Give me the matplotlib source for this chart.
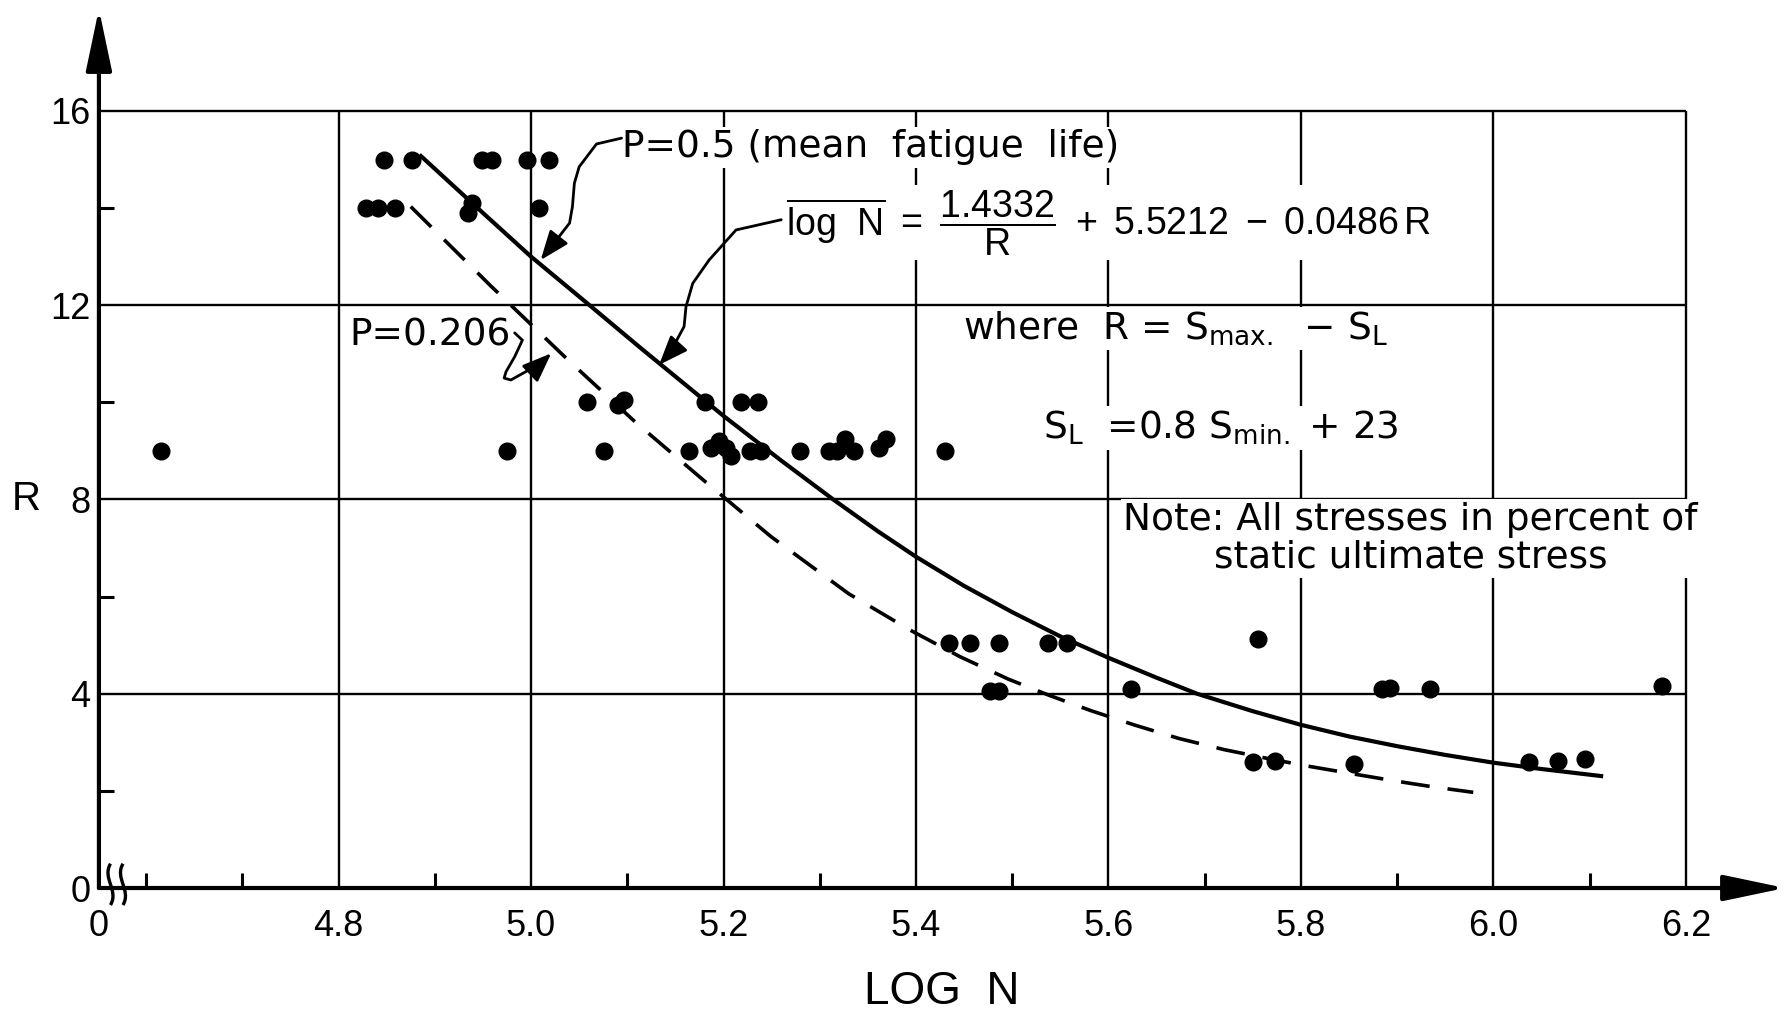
import numpy as np
import matplotlib
matplotlib.use('Agg')
import matplotlib.pyplot as plt
from matplotlib.path import Path
from matplotlib.patches import FancyArrowPatch, PathPatch

plt.rcParams['font.family'] = ['Liberation Sans', 'DejaVu Sans']
plt.rcParams['mathtext.fontset'] = 'custom'
plt.rcParams['mathtext.rm'] = 'Liberation Sans'
plt.rcParams['mathtext.it'] = 'Liberation Sans'
plt.rcParams['mathtext.bf'] = 'Liberation Sans:bold'

# test points (log N, R)
pts_logN = [4.847, 4.876, 4.949, 4.959, 4.996, 5.019,
            4.829, 4.841, 4.859, 4.939, 4.935, 5.008,
            5.058, 5.090, 5.097, 5.181, 5.218, 5.236,
            4.615, 4.975, 5.076, 5.164, 5.187, 5.195, 5.203, 5.208, 5.227, 5.239,
            5.279, 5.310, 5.318, 5.326, 5.336, 5.362, 5.369, 5.430,
            5.434, 5.456, 5.486, 5.537, 5.557, 5.755,
            5.477, 5.486, 5.623, 5.884, 5.893, 5.934, 6.175,
            5.750, 5.773, 5.855, 6.037, 6.067, 6.095]
pts_R = [15.0, 15.0, 15.0, 15.0, 15.0, 15.0,
         14.0, 14.0, 14.0, 14.1, 13.9, 14.0,
         10.0, 9.95, 10.05, 10.0, 10.0, 10.0,
         9.0, 9.0, 9.0, 9.0, 9.05, 9.2, 9.05, 8.9, 9.0, 9.0,
         9.0, 9.0, 9.0, 9.25, 9.0, 9.05, 9.25, 9.0,
         5.05, 5.05, 5.05, 5.05, 5.05, 5.12,
         4.05, 4.05, 4.1, 4.1, 4.12, 4.1, 4.15,
         2.6, 2.62, 2.55, 2.6, 2.62, 2.65]

# P = 0.5 curve (mean fatigue life)
mean_logN = [4.884, 4.95, 5.0, 5.062, 5.115, 5.2, 5.26, 5.314, 5.36, 5.4, 5.45, 5.5,
             5.55, 5.6, 5.65, 5.692, 5.75, 5.8, 5.85, 5.9, 5.95, 6.0, 6.05, 6.114]
mean_R = [15.1, 13.9, 13.0, 11.98, 11.1, 9.72, 8.8, 8.0, 7.35, 6.82, 6.22, 5.68,
          5.18, 4.74, 4.33, 4.0, 3.64, 3.36, 3.12, 2.92, 2.74, 2.58, 2.45, 2.30]

# P = 0.206 curve
low_logN = [4.875, 4.958, 5.037, 5.108, 5.179, 5.249, 5.33, 5.393, 5.446, 5.496,
            5.538, 5.582, 5.628, 5.673, 5.72, 5.767, 5.807, 5.857, 5.899, 5.938, 5.979]
low_R = [14.03, 12.4, 10.9, 9.6, 8.4, 7.24, 6.06, 5.32, 4.76, 4.30,
         3.97, 3.65, 3.35, 3.08, 2.85, 2.66, 2.51, 2.34, 2.20, 2.08, 1.97]

grid_logN = [4.8, 5.0, 5.2, 5.4, 5.6, 5.8, 6.0, 6.2]
grid_R = [4, 8, 12, 16]
xtick_labels = ['0', '4.8', '5.0', '5.2', '5.4', '5.6', '5.8', '6.0', '6.2']
ytick_vals = [0, 4, 8, 12, 16]
x_minor = [4.6, 4.7, 4.9, 5.1, 5.3, 5.5, 5.7, 5.9, 6.1]
y_minor = [2, 6, 10, 14]

x0, x1 = 4.551, 6.303
y0, y1 = 0, 18.1

fig = plt.figure(figsize=(17.89, 10.18), dpi=100)
ax = fig.add_axes([0.0553, 0.1277, 0.9425, 0.8635])
ax.set_xlim(x0, x1)
ax.set_ylim(y0, y1)
for s in ax.spines.values():
    s.set_visible(False)

# grid box
ax.vlines(grid_logN, 0, 16, color='k', lw=1.7, zorder=1)
ax.hlines(grid_R, x0, 6.2, color='k', lw=1.7, zorder=1)

# axes with arrows
arr = dict(arrowstyle='-|>,head_length=0.95,head_width=0.2', lw=3, color='k',
           shrinkA=0, shrinkB=0, mutation_scale=40)
ax.annotate('', xy=(1, 0), xytext=(0, 0), xycoords='axes fraction',
            arrowprops=arr, annotation_clip=False, zorder=6)
ax.annotate('', xy=(0, 1), xytext=(0, 0), xycoords='axes fraction',
            arrowprops=arr, annotation_clip=False, zorder=6)

# axis break marks
for bx in [4.563, 4.576]:
    verts = [(bx, -0.35), (bx + 0.009, -0.05), (bx - 0.009, 0.2), (bx, 0.5)]
    ax.add_patch(PathPatch(Path(verts, [Path.MOVETO, Path.CURVE4, Path.CURVE4, Path.CURVE4]),
                           fc='none', ec='k', lw=2.4, clip_on=False, zorder=6))

ax.set_xticks([x0] + grid_logN)
ax.set_xticklabels(xtick_labels)
ax.set_yticks(ytick_vals)
ax.set_xticks(x_minor, minor=True)
ax.set_yticks(y_minor, minor=True)
ax.tick_params(axis='both', which='major', length=0, labelsize=26)
ax.tick_params(axis='x', which='major', pad=15)
ax.tick_params(axis='y', which='major', pad=6)
ax.tick_params(axis='both', which='minor', direction='in', length=11, width=2.2)

ax.set_xlabel('LOG  N', fontsize=33, labelpad=19)
ax.set_ylabel('R', fontsize=29, rotation=0, va='center', ha='center')
ax.yaxis.set_label_coords(-0.043, 8 / y1)

# curves and points
ax.plot(mean_logN, mean_R, color='k', lw=3, solid_capstyle='butt', zorder=4)
ax.plot(low_logN, low_R, color='k', lw=2.6, dashes=(8, 5), zorder=4)
ax.plot(pts_logN, pts_R, 'o', color='k', ms=12, zorder=5)

# text
wb = dict(fc='white', ec='none', pad=2)
fs = 27
dv = dict(family='DejaVu Sans', math_fontfamily='dejavusans')
ax.text(5.094, 15.25, 'P=0.5 (mean  fatigue  life)', fontsize=fs, va='center',
        ha='left', bbox=wb, zorder=3, **dv)
ax.text(5.265, 13.70,
        r'$\overline{\mathrm{log\ \ N}}\ =\ \dfrac{1.4332}{\mathrm{R}}\ +\ 5.5212\ -\ 0.0486\,\mathrm{R}$',
        fontsize=fs, va='center', ha='left', bbox=wb, zorder=3)
ax.text(5.449, 11.52, r'where  R = S$_{\mathrm{max.}}$  $-$ S$_{\mathrm{L}}$',
        fontsize=fs, va='center', ha='left', bbox=wb, zorder=3, **dv)
ax.text(5.532, 9.47, r'S$_{\mathrm{L}}$  =0.8 S$_{\mathrm{min.}}$ + 23',
        fontsize=fs, va='center', ha='left', bbox=wb, zorder=3, **dv)
ax.text(5.914, 7.19, 'Note: All stresses in percent of\nstatic ultimate stress',
        fontsize=fs, va='center', ha='center', linespacing=1.05, bbox=wb, zorder=3, **dv)
ax.text(4.811, 11.37, 'P=0.206', fontsize=fs, va='center', ha='left', bbox=wb, zorder=3, **dv)

# leader arrows
lead_mean = [(5.094, 15.44), (5.068, 15.32), (5.050, 14.85), (5.045, 14.51),
             (5.043, 14.03), (5.040, 13.69), (5.029, 13.41), (5.010, 12.93)]
lead_eq = [(5.260, 13.76), (5.213, 13.55), (5.185, 12.93), (5.168, 12.45),
           (5.161, 11.97), (5.159, 11.56), (5.144, 11.01), (5.133, 10.77)]
lead_low = [(4.983, 11.43), (4.991, 11.28), (4.983, 10.94), (4.974, 10.63),
            (4.972, 10.50), (4.979, 10.46), (4.998, 10.67), (5.012, 10.84), (5.021, 11.01)]
for pts in [lead_mean, lead_eq, lead_low]:
    p = Path(pts)
    ax.add_patch(FancyArrowPatch(path=p, arrowstyle='-|>,head_length=0.9,head_width=0.35',
                                 mutation_scale=20, lw=2, color='k',
                                 shrinkA=0, shrinkB=0, zorder=4))

fig.savefig('out.png', dpi=100)
